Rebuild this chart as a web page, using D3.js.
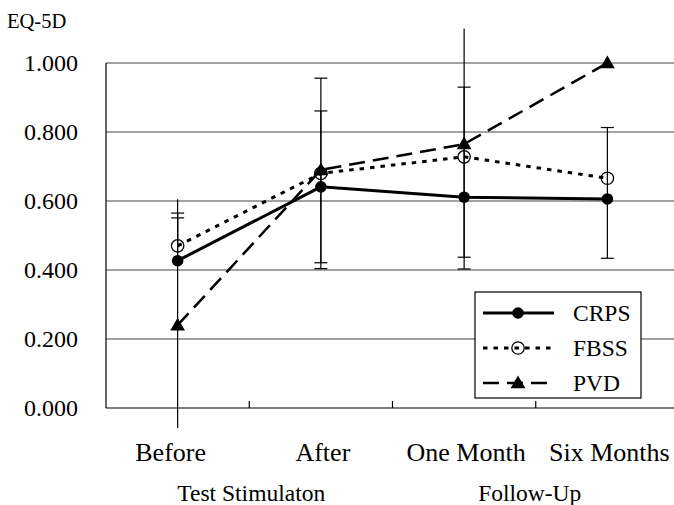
<!DOCTYPE html>
<meta charset="utf-8">
<body style="margin:0;background:#fff">
<script src="https://d3js.org/d3.v7.min.js"></script>
<div id="chart"></div>
<style>
  #chart text { font-family: "Liberation Serif", "DejaVu Serif", serif; fill: #000; }
</style>
<script>

// categories along the x axis
var categories = ["Before", "After", "One Month", "Six Months"];
var groupLabels = ["Test Stimulaton", "Follow-Up"];
var yTicks = [0, 0.2, 0.4, 0.6, 0.8, 1.0];

// mean EQ-5D per group
var crps = [0.427, 0.641, 0.611, 0.606];
var fbss = [0.470, 0.680, 0.728, 0.666];
var pvd  = [0.240, 0.690, 0.765, 1.000];

// error bars (lo / hi ends, whether a cap is drawn)
var errCat  = ["Before", "Before", "Before", "After", "After", "One Month", "One Month", "Six Months"];
var errLo   = [-0.058, 0.427, 0.470, 0.421, 0.404, 0.403, 0.437, 0.434];
var errHi   = [0.605, 0.565, 0.551, 0.861, 0.956, 1.100, 0.930, 0.813];
var capLo   = [false, false, false, true, true, true, true, true];
var capHi   = [false, true, true, true, true, false, true, true];

var W = 674, H = 505;
var margin = {top: 63, left: 106},
    width = 573, height = 345;

var svg = d3.select("#chart").append("svg")
    .attr("width", W).attr("height", H);

var x = d3.scaleBand().domain(categories).range([margin.left, margin.left + width]).padding(0);
var y = d3.scaleLinear().domain([0, 1]).range([margin.top + height, margin.top]);
var cx = function(c) { return x(c) + x.bandwidth() / 2; };

// gridlines
svg.append("g").selectAll("line")
  .data(yTicks.filter(function(d){ return d > 0; }))
  .join("line")
    .attr("x1", margin.left).attr("x2", margin.left + width)
    .attr("y1", function(d){ return y(d); }).attr("y2", function(d){ return y(d); })
    .attr("stroke", "#444").attr("stroke-width", 1.2);

// axes lines
svg.append("line")
  .attr("x1", margin.left).attr("x2", margin.left)
  .attr("y1", y(1)).attr("y2", y(0))
  .attr("stroke", "#000").attr("stroke-width", 1.2);
svg.append("line")
  .attr("x1", margin.left).attr("x2", margin.left + width)
  .attr("y1", y(0)).attr("y2", y(0))
  .attr("stroke", "#000").attr("stroke-width", 1.2);

// x ticks between categories
svg.append("g").selectAll("line")
  .data(categories.slice(1))
  .join("line")
    .attr("x1", function(d){ return x(d); }).attr("x2", function(d){ return x(d); })
    .attr("y1", y(0)).attr("y2", y(0) - 7)
    .attr("stroke", "#000").attr("stroke-width", 1.2);

// y tick labels
svg.append("g").selectAll("text")
  .data(yTicks)
  .join("text")
    .attr("x", 78).attr("y", function(d){ return y(d) + 8; })
    .attr("text-anchor", "end")
    .style("font-size", "24px")
    .text(function(d){ return d.toFixed(3); });

svg.append("text")
  .attr("x", 7).attr("y", 28)
  .style("font-size", "20.5px")
  .text("EQ-5D");

// category labels (the first one sits a little left in the original)
svg.append("g").selectAll("text")
  .data(categories)
  .join("text")
    .attr("x", function(d, i){ return cx(d) + (i === 0 ? -7 : 2); }).attr("y", 461)
    .attr("text-anchor", "middle")
    .style("font-size", "26px")
    .text(function(d){ return d; });

svg.append("g").selectAll("text")
  .data(groupLabels)
  .join("text")
    .attr("x", function(d, i){ return x(categories[i * 2 + 1]) + (i === 0 ? 2 : -6); }).attr("y", 501)
    .attr("text-anchor", "middle")
    .style("font-size", "23.5px")
    .text(function(d){ return d; });

// error bars
var errs = errCat.map(function(c, i) {
  return {cat: c, lo: errLo[i], hi: errHi[i], capLo: capLo[i], capHi: capHi[i]};
});
var eb = svg.append("g").attr("stroke", "#000").attr("stroke-width", 1.2);
errs.forEach(function(e) {
  var px = cx(e.cat);
  eb.append("line").attr("x1", px).attr("x2", px).attr("y1", y(e.lo)).attr("y2", y(e.hi));
  if (e.capLo) eb.append("line").attr("x1", px - 6.5).attr("x2", px + 6.5).attr("y1", y(e.lo)).attr("y2", y(e.lo));
  if (e.capHi) eb.append("line").attr("x1", px - 6.5).attr("x2", px + 6.5).attr("y1", y(e.hi)).attr("y2", y(e.hi));
});

var series = [
  {name: "CRPS", values: crps, dash: null, width: 3, marker: "dot"},
  {name: "FBSS", values: fbss, dash: "4.5,6", width: 3, marker: "ring"},
  {name: "PVD",  values: pvd,  dash: "16,8", width: 2.5, marker: "tri"}
];

var line = d3.line()
  .x(function(d, i){ return cx(categories[i]); })
  .y(function(d){ return y(d); });

function drawMarker(g, type, px, py) {
  if (type === "dot") {
    g.append("circle").attr("cx", px).attr("cy", py).attr("r", 5.8).attr("fill", "#000");
  } else if (type === "ring") {
    g.append("circle").attr("cx", px).attr("cy", py).attr("r", 6.2)
      .attr("fill", "none").attr("stroke", "#000").attr("stroke-width", 1.3);
  } else {
    g.append("path")
      .attr("d", d3.symbol().type(d3.symbolTriangle).size(95)())
      .attr("transform", "translate(" + px + "," + (py + 1) + ")")
      .attr("fill", "#000");
  }
}

series.forEach(function(s) {
  svg.append("path")
    .datum(s.values)
    .attr("d", line)
    .attr("fill", "none")
    .attr("stroke", "#000")
    .attr("stroke-width", s.width)
    .attr("stroke-dasharray", s.dash);
  var g = svg.append("g");
  s.values.forEach(function(v, i){ drawMarker(g, s.marker, cx(categories[i]), y(v)); });
});

// legend
var leg = svg.append("g");
leg.append("rect")
  .attr("x", 475).attr("y", 292).attr("width", 166).attr("height", 106)
  .attr("fill", "#fff").attr("stroke", "#000").attr("stroke-width", 1.2);
series.forEach(function(s, i) {
  var ly = 313 + i * 35;
  leg.append("line")
    .attr("x1", 483).attr("x2", 554).attr("y1", ly).attr("y2", ly)
    .attr("stroke", "#000").attr("stroke-width", s.width)
    .attr("stroke-dasharray", s.dash);
  drawMarker(leg, s.marker, 518, ly);
  leg.append("text")
    .attr("x", 573).attr("y", ly + 8)
    .style("font-size", "23.5px")
    .text(s.name);
});

</script>
</body>
